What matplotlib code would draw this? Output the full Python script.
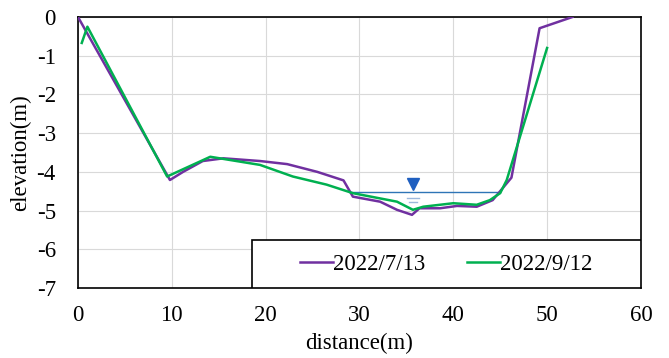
import matplotlib.pyplot as plt
from matplotlib.patches import Rectangle

plt.rcParams['font.family'] = ['Liberation Serif', 'DejaVu Serif']
plt.rcParams['axes.unicode_minus'] = False

# 2022/7/13 survey
x_jul = [0, 9.8, 11.2, 13.3, 15.5, 19.4, 22.3, 25.5, 28.3, 29.3, 32.2, 34.0, 35.6,
         36.4, 38.6, 40.4, 42.5, 44.2, 46.2, 49.2, 52.7]
y_jul = [0, -4.21, -4.0, -3.72, -3.65, -3.72, -3.8, -4.0, -4.22, -4.64, -4.77, -4.98, -5.11,
         -4.94, -4.94, -4.88, -4.9, -4.73, -4.15, -0.29, 0.0]

# 2022/9/12 survey
x_sep = [0.4, 1.0, 9.5, 14.1, 19.4, 22.9, 26.5, 29.3, 34.0, 35.7, 36.8, 40.0, 42.5,
         43.9, 45.0, 45.7, 50.0]
y_sep = [-0.67, -0.25, -4.12, -3.61, -3.82, -4.12, -4.33, -4.55, -4.77, -4.98, -4.9, -4.81, -4.85,
         -4.73, -4.55, -4.21, -0.8]

# water level
water_x = [29.0, 45.0]
water_y = -4.52
marker_x = 35.7

fs = 16.5

fig, ax = plt.subplots(figsize=(6.69, 3.58), dpi=100)
fig.subplots_adjust(left=0.1166, right=0.958, bottom=0.1955, top=0.9525)

ax.plot(x_jul, y_jul, color='#7030A0', lw=1.8, label='2022/7/13', zorder=3)
ax.plot(x_sep, y_sep, color='#00B050', lw=1.8, label='2022/9/12', zorder=3)

ax.plot(water_x, [water_y, water_y], color='#2E75B6', lw=1.0, zorder=2)
ax.plot([marker_x], [water_y + 0.2], marker='v', color='#1F5FC0', ms=8, ls='none', zorder=4)
ax.plot([marker_x - 0.6, marker_x + 0.6], [water_y - 0.15, water_y - 0.15], color='#9DB8DC', lw=1.0)
ax.plot([marker_x - 0.4, marker_x + 0.4], [water_y - 0.27, water_y - 0.27], color='#9DB8DC', lw=1.0)

ax.set_xlim(0, 60)
ax.set_ylim(-7, 0)
ax.set_xticks(range(0, 61, 10))
ax.set_yticks(range(-7, 1))
ax.grid(True, color='#d9d9d9', lw=0.8)
ax.set_axisbelow(True)
ax.tick_params(length=0, labelsize=fs)
ax.tick_params(axis='x', pad=12)
ax.tick_params(axis='y', pad=16)
for s in ax.spines.values():
    s.set_color('black')
    s.set_linewidth(1.2)

ax.set_xlabel('distance(m)', fontsize=fs, labelpad=5)
ax.set_ylabel('elevation(m)', fontsize=fs, labelpad=4)

# legend box along the bottom right of the plot
box = (0.309, 0.0, 0.691, 0.177)
ax.add_patch(Rectangle(box[:2], box[2], box[3], transform=ax.transAxes,
                       facecolor='white', edgecolor='black', lw=1.2, zorder=5))
leg = ax.legend(loc='center', bbox_to_anchor=box, ncol=2, fontsize=fs,
                frameon=False, borderaxespad=0, handlelength=1.45,
                handletextpad=0.0, columnspacing=1.8)
leg.set_zorder(6)

fig.savefig('out.png', dpi=100)
